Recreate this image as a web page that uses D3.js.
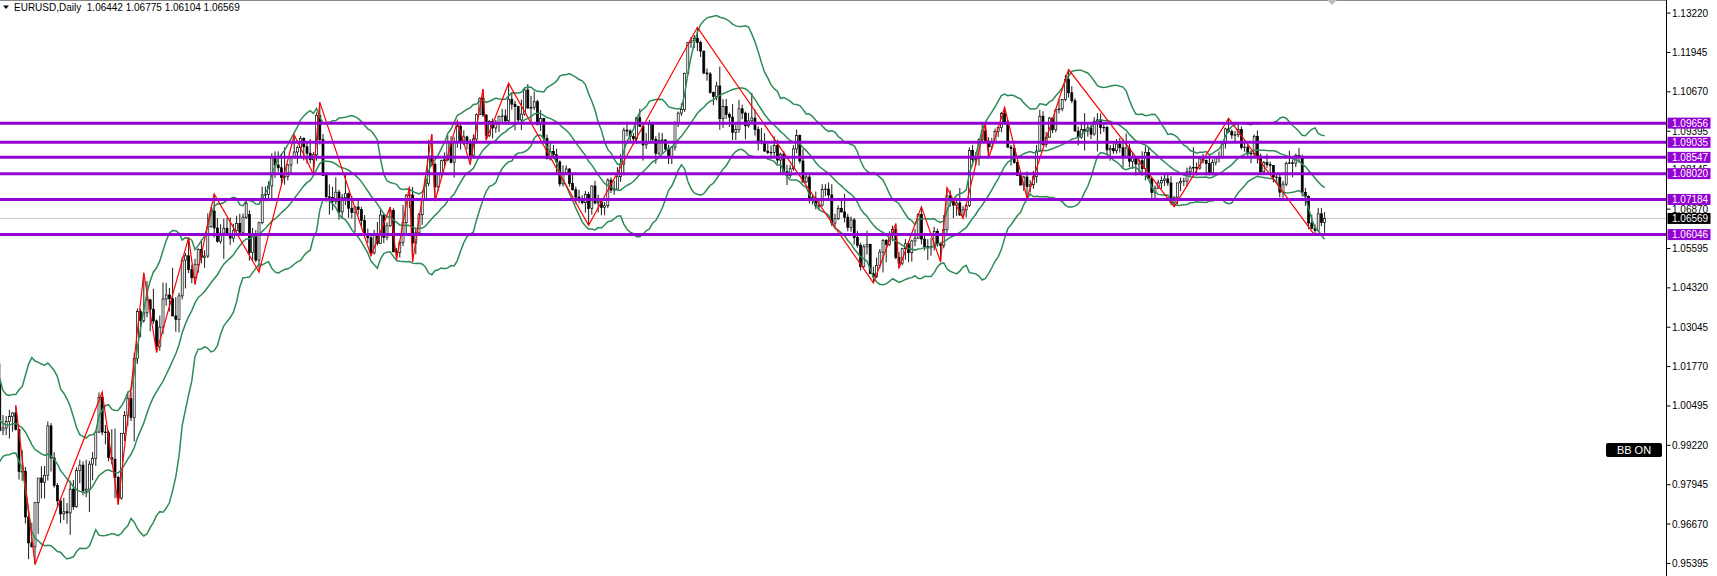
<!DOCTYPE html>
<html><head><meta charset="utf-8">
<script src="https://cdn.jsdelivr.net/npm/d3@7"></script>
<style>body{margin:0;background:#fff;}svg{display:block;}</style>
</head><body>
<svg id="c" width="1717" height="576"></svg>
<script>
// EURUSD Daily, one row per week (Aug 15 2022 .. Apr 19 2024)
const opens=[
1.0260,1.0159,1.0170,1.0178,1.0088, 1.0038,0.9943,0.9966,0.9967,0.9973, 0.9964,1.0002,1.0016,1.0054,0.9946,
0.9953,0.9926,0.9902,1.0011,1.0000, 1.0042,1.0122,0.9971,0.9978,0.9999, 1.0015,1.0027,0.9973,0.9837,0.9837,
0.9690,0.9606,0.9593,0.9736,0.9816, 0.9802,0.9825,0.9985,0.9881,0.9792, 0.9742,0.9700,0.9707,0.9703,0.9780,
0.9723,0.9840,0.9858,0.9774,0.9780, 0.9861,0.9879,0.9965,1.0077,0.9965, 0.9963,0.9883,0.9877,0.9818,0.9751,
0.9961,1.0019,1.0073,1.0012,1.0203, 1.0355,1.0326,1.0351,1.0393,1.0363, 1.0325,1.0243,1.0305,1.0396,1.0409,
1.0397,1.0341,1.0330,1.0406,1.0522, 1.0536,1.0491,1.0465,1.0507,1.0556, 1.0531,1.0535,1.0630,1.0681,1.0626,
1.0583,1.0609,1.0625,1.0603,1.0593, 1.0617,1.0641,1.0612,1.0661, 1.0670,1.0547,1.0605,1.0522,
1.0643,1.0733,1.0735,1.0762,1.0853, 1.0830,1.0821,1.0789,1.0793,1.0830, 1.0856,1.0872,1.0886,1.0916,1.0889,
1.0868,1.0847,1.0863,1.0991,1.0912, 1.0796,1.0727,1.0725,1.0712,1.0742, 1.0678,1.0724,1.0737,1.0690,1.0676,
1.0694,1.0686,1.0650,1.0605,1.0594, 1.0545,1.0606,1.0576,1.0668,1.0596, 1.0633,1.0683,1.0549,1.0547,1.0579,
1.0643,1.0732,1.0733,1.0577,1.0610, 1.0669,1.0718,1.0770,1.0859,1.0832, 1.0759,1.0801,1.0844,1.0847,1.0905,
1.0839,1.0903,1.0955,1.0904,1.0921, 1.0900,1.0862,1.0914,1.0993,1.1046, 1.0992,1.0926,1.0971,1.0950,1.0967,
1.0988,1.0989,1.0973,1.1043,1.1027, 1.1019,1.0976,1.0995,1.1073,1.1014, 1.1017,1.1035,1.0962,1.0981,1.0916,
1.0850,1.0874,1.0863,1.0840,1.0769, 1.0805,1.0817,1.0770,1.0750,1.0726, 1.0721,1.0708,1.0735,1.0689,1.0762,
1.0707,1.0711,1.0693,1.0698,1.0781, 1.0749,1.0752,1.0792,1.0833,1.0943, 1.0940,1.0922,1.0915,1.0983,1.0955,
1.0895,1.0906,1.0962,1.0913,1.0868, 1.0909,1.0911,1.0882,1.0854,1.0888, 1.0967,1.0998,1.1010,1.1127,1.1227,
1.1232,1.1240,1.1227,1.1199,1.1128, 1.1125,1.1065,1.1052,1.1086,1.0980, 1.1020,1.0994,1.0985,1.0936,1.0945,
1.1012,1.0998,1.0957,1.0973,1.0982, 1.0945,1.0908,1.0906,1.0875,1.0870, 1.0871,1.0893,1.0846,1.0865,1.0808,
1.0796,1.0818,1.0882,1.0926,1.0843, 1.0775,1.0791,1.0722,1.0723,1.0697, 1.0700,1.0751,1.0752,1.0733,1.0642,
1.0656,1.0689,1.0678,1.0661,1.0628, 1.0652,1.0595,1.0570,1.0501,1.0565, 1.0573,1.0478,1.0468,1.0505,1.0548,
1.0586,1.0573,1.0605,1.0621,1.0530, 1.0512,1.0559,1.0575,1.0546,1.0584, 1.0593,1.0670,1.0590,1.0566,1.0563,
1.0565,1.0615,1.0575,1.0570,1.0621, 1.0730,1.0718,1.0700,1.0707,1.0668, 1.0685,1.0699,1.0877,1.0848,1.0851,
1.0912,1.0940,1.0907,1.0889,1.0904, 1.0939,1.0952,1.0997,1.0970,1.0888, 1.0883,1.0838,1.0796,1.0765,1.0791,
1.0761,1.0766,1.0792,1.0875,1.0988, 1.0896,1.0920,1.0982,1.0944,1.1009, 1.1012,1.1042,1.1107,1.1064,
1.1038,1.0940,1.0920,1.0945, 1.0940,1.0950,1.0930,1.0972,1.0976, 1.0951,1.0952,1.0879,1.0884,1.0876,
1.0898,1.0886,1.0855,1.0885,1.0842, 1.0854,1.0833,1.0844,1.0818,1.0871, 1.0786,1.0741,1.0755,1.0772,1.0780,
1.0785,1.0772,1.0709,1.0726,1.0772, 1.0777,1.0778,1.0808,1.0820,1.0822, 1.0820,1.0850,1.0845,1.0835,1.0804,
1.0838,1.0855,1.0853,1.0899,1.0947, 1.0938,1.0927,1.0928,1.0945,1.0887, 1.0888,1.0868,1.0866,1.0923,1.0859,
1.0808,1.0838,1.0831,1.0828,1.0791, 1.0790,1.0742,1.0768,1.0835,1.0837, 1.0836,1.0861,1.0856,1.0741,1.0728,
1.0642,1.0625,1.0618,1.0672,1.06442];
const highs=[
1.0268,1.0190,1.0202,1.0190,1.0096, 1.0045,0.9973,0.9999,1.0032,1.0090, 1.0028,1.0079,1.0055,1.0055,1.0033,
0.9960,0.9988,1.0011,1.0030,1.0113, 1.0198,1.0187,1.0020,1.0017,1.0037, 1.0029,1.0051,0.9976,0.9906,0.9852,
0.9710,0.9671,0.9739,0.9815,0.9854, 0.9855,0.9999,0.9994,0.9900,0.9800, 0.9750,0.9752,0.9735,0.9807,0.9810,
0.9850,0.9875,0.9870,0.9875,0.9872, 0.9900,0.9970,1.0093,1.0094,0.9988, 0.9971,0.9974,0.9976,0.9824,0.9960,
1.0033,1.0096,1.0094,1.0222,1.0365, 1.0364,1.0481,1.0454,1.0397,1.0429, 1.0330,1.0342,1.0449,1.0448,1.0432,
1.0497,1.0402,1.0416,1.0533,1.0545, 1.0595,1.0507,1.0526,1.0560,1.0589, 1.0554,1.0673,1.0694,1.0736,1.0658,
1.0638,1.0656,1.0658,1.0660,1.0640, 1.0666,1.0672,1.0673,1.0714, 1.0683,1.0626,1.0619,1.0646,
1.0760,1.0760,1.0777,1.0868,1.0874, 1.0874,1.0867,1.0887,1.0834,1.0858, 1.0927,1.0893,1.0924,1.0920,1.0903,
1.0914,1.0872,1.1000,1.1033,1.0930, 1.0806,1.0767,1.0760,1.0790,1.0750, 1.0736,1.0805,1.0741,1.0730,1.0697,
1.0719,1.0694,1.0668,1.0624,1.0600, 1.0620,1.0645,1.0691,1.0674,1.0644, 1.0694,1.0690,1.0561,1.0586,1.0700,
1.0736,1.0760,1.0759,1.0623,1.0675, 1.0722,1.0787,1.0912,1.0930,1.0840, 1.0805,1.0847,1.0871,1.0926,1.0924,
1.0920,1.0973,1.0963,1.0942,1.0925, 1.0914,1.0929,1.0997,1.1049,1.1076, 1.0994,1.0976,1.0980,1.0976,1.0989,
1.1012,1.1010,1.1095,1.1065,1.1038, 1.1022,1.1042,1.1079,1.1092,1.1054, 1.1068,1.1041,1.1008,1.0983,1.0928,
1.0906,1.0895,1.0883,1.0845,1.0829, 1.0829,1.0820,1.0804,1.0760,1.0749, 1.0732,1.0746,1.0743,1.0764,1.0779,
1.0734,1.0718,1.0710,1.0787,1.0790, 1.0779,1.0823,1.0865,1.0951,1.0970, 1.0946,1.0934,1.0986,1.1012,1.0966,
1.0934,1.0976,1.0967,1.0923,1.0935, 1.0934,1.0914,1.0896,1.0887,1.0972, 1.1003,1.1030,1.1129,1.1228,1.1245,
1.1251,1.1276,1.1233,1.1200,1.1143, 1.1131,1.1068,1.1100,1.1149,1.1043, 1.1044,1.1000,1.1027,1.0965,1.1041,
1.1025,1.1003,1.0999,1.1064,1.1010, 1.0955,1.0950,1.0933,1.0901,1.0893, 1.0923,1.0912,1.0870,1.0875,1.0831,
1.0831,1.0894,1.0945,1.0929,1.0882, 1.0806,1.0799,1.0732,1.0744,1.0718, 1.0768,1.0768,1.0773,1.0768,1.0672,
1.0699,1.0718,1.0737,1.0672,1.0663, 1.0658,1.0616,1.0578,1.0573,1.0617, 1.0575,1.0500,1.0530,1.0558,1.0590,
1.0590,1.0615,1.0634,1.0640,1.0548, 1.0562,1.0590,1.0584,1.0588,1.0623, 1.0674,1.0695,1.0610,1.0590,1.0594,
1.0630,1.0624,1.0577,1.0668,1.0756, 1.0748,1.0719,1.0724,1.0755,1.0697, 1.0705,1.0887,1.0895,1.0872,1.0917,
1.0962,1.0965,1.0920,1.0918,1.0948, 1.0954,1.1002,1.1017,1.0976,1.0895, 1.0894,1.0848,1.0806,1.0795,1.0809,
1.0781,1.0811,1.0895,1.1009,1.1004, 1.0937,1.0986,1.0983,1.1011,1.1044, 1.1044,1.1122,1.1139,1.1085,
1.1046,1.0955,1.0969,1.0998, 1.0965,1.0960,1.0985,1.0998,1.0997, 1.0963,1.0957,1.0895,1.0900,1.0914,
1.0918,1.0915,1.0932,1.0898,1.0870, 1.0855,1.0856,1.0874,1.0890,1.0888, 1.0790,1.0764,1.0782,1.0793,1.0799,
1.0805,1.0794,1.0728,1.0771,1.0789, 1.0789,1.0822,1.0827,1.0888,1.0838, 1.0857,1.0866,1.0848,1.0861,1.0848,
1.0859,1.0874,1.0908,1.0951,1.0981, 1.0945,1.0940,1.0963,1.0955,1.0906, 1.0896,1.0877,1.0929,1.0942,1.0867,
1.0843,1.0865,1.0841,1.0830,1.0803, 1.0803,1.0778,1.0841,1.0876,1.0846, 1.0867,1.0885,1.0864,1.0756,1.0732,
1.0669,1.0637,1.0691,1.0691,1.06775];
const lows=[
1.0153,1.0122,1.0162,1.0078,1.0032, 0.9926,0.9901,0.9910,0.9950,0.9948, 0.9914,0.9990,0.9967,0.9910,0.9944,
0.9877,0.9864,0.9876,0.9929,0.9997, 1.0040,0.9966,0.9955,0.9955,0.9944, 0.9966,0.9970,0.9811,0.9807,0.9669,
0.9553,0.9592,0.9536,0.9635,0.9750, 0.9750,0.9808,0.9837,0.9785,0.9720, 0.9670,0.9680,0.9668,0.9632,0.9713,
0.9720,0.9799,0.9760,0.9754,0.9706, 0.9809,0.9855,0.9962,0.9955,0.9925, 0.9870,0.9860,0.9751,0.9730,0.9746,
0.9936,0.9984,1.0000,0.9935,1.0186, 1.0272,1.0319,1.0337,1.0291,1.0316, 1.0223,1.0228,1.0282,1.0374,1.0355,
1.0340,1.0290,1.0288,1.0395,1.0430, 1.0480,1.0447,1.0443,1.0481,1.0511, 1.0497,1.0529,1.0627,1.0595,1.0578,
1.0575,1.0526,1.0601,1.0571,1.0580, 1.0615,1.0611,1.0610,1.0655, 1.0520,1.0520,1.0515,1.0483,
1.0638,1.0712,1.0713,1.0714,1.0788, 1.0808,1.0768,1.0766,1.0780,1.0802, 1.0852,1.0834,1.0852,1.0845,1.0835,
1.0835,1.0800,1.0844,1.0896,1.0795, 1.0711,1.0669,1.0683,1.0702,1.0653, 1.0656,1.0700,1.0659,1.0657,1.0613,
1.0669,1.0632,1.0600,1.0577,1.0536, 1.0540,1.0569,1.0574,1.0577,1.0586, 1.0630,1.0547,1.0524,1.0530,1.0567,
1.0609,1.0690,1.0516,1.0541,1.0605, 1.0636,1.0715,1.0761,1.0825,1.0713, 1.0745,1.0786,1.0823,1.0842,1.0835,
1.0789,1.0886,1.0880,1.0895,1.0880, 1.0831,1.0858,1.0907,1.0992,1.0985, 1.0910,1.0920,1.0916,1.0934,1.0937,
1.0962,1.0964,1.0960,1.1009,1.0942, 1.0965,1.0943,1.0990,1.1017,1.0967, 1.1008,1.0958,1.0940,1.0902,1.0849,
1.0845,1.0853,1.0800,1.0760,1.0760, 1.0800,1.0760,1.0747,1.0705,1.0706, 1.0703,1.0676,1.0635,1.0669,1.0702,
1.0676,1.0667,1.0667,1.0690,1.0739, 1.0733,1.0749,1.0775,1.0796,1.0923, 1.0905,1.0895,1.0899,1.0955,1.0844,
1.0882,1.0899,1.0900,1.0834,1.0861, 1.0867,1.0875,1.0833,1.0833,1.0877, 1.0953,1.0989,1.1002,1.1119,1.1210,
1.1209,1.1199,1.1180,1.1124,1.1103, 1.1061,1.1024,1.1039,1.0944,1.0950, 1.0979,1.0953,1.0911,1.0911,1.0934,
1.0978,1.0913,1.0951,1.0968,1.0925, 1.0877,1.0897,1.0873,1.0865,1.0851, 1.0857,1.0834,1.0802,1.0803,1.0765,
1.0788,1.0811,1.0868,1.0835,1.0773, 1.0771,1.0705,1.0702,1.0686,1.0686, 1.0695,1.0729,1.0715,1.0632,1.0631,
1.0652,1.0676,1.0644,1.0615,1.0614, 1.0572,1.0562,1.0488,1.0496,1.0540, 1.0477,1.0448,1.0464,1.0494,1.0482,
1.0515,1.0567,1.0583,1.0525,1.0495, 1.0505,1.0523,1.0515,1.0517,1.0567, 1.0590,1.0573,1.0553,1.0522,1.0536,
1.0553,1.0565,1.0516,1.0560,1.0610, 1.0695,1.0658,1.0665,1.0665,1.0657, 1.0660,1.0694,1.0827,1.0829,1.0828,
1.0905,1.0902,1.0852,1.0879,1.0902, 1.0921,1.0936,1.0961,1.0885,1.0828, 1.0834,1.0794,1.0763,1.0746,1.0723,
1.0741,1.0753,1.0772,1.0873,1.0893, 1.0887,1.0918,1.0933,1.0936,1.0997, 1.1004,1.1036,1.1049,1.1030,
1.0939,1.0893,1.0915,1.0877, 1.0922,1.0914,1.0925,1.0874,1.0930, 1.0937,1.0861,1.0844,1.0866,1.0867,
1.0870,1.0821,1.0853,1.0823,1.0817, 1.0796,1.0806,1.0795,1.0780,1.0783, 1.0723,1.0722,1.0752,1.0753,1.0762,
1.0762,1.0700,1.0695,1.0702,1.0745, 1.0762,1.0761,1.0794,1.0805,1.0796, 1.0815,1.0835,1.0796,1.0796,1.0796,
1.0828,1.0838,1.0852,1.0883,1.0934, 1.0915,1.0904,1.0920,1.0880,1.0873, 1.0856,1.0836,1.0851,1.0835,1.0802,
1.0801,1.0821,1.0805,1.0773,1.0774, 1.0725,1.0724,1.0761,1.0833,1.0790, 1.0823,1.0837,1.0728,1.0698,1.0622,
1.0622,1.0601,1.0612,1.0632,1.06104];
const closes=[
1.0159,1.0170,1.0178,1.0088,1.0038, 0.9943,0.9966,0.9967,0.9973,0.9964, 1.0002,1.0016,1.0054,0.9946,0.9953,
0.9926,0.9902,1.0011,1.0000,1.0042, 1.0122,0.9971,0.9978,0.9999,1.0015, 1.0027,0.9973,0.9837,0.9837,0.9690,
0.9606,0.9593,0.9736,0.9816,0.9802, 0.9825,0.9985,0.9881,0.9792,0.9742, 0.9700,0.9707,0.9703,0.9780,0.9723,
0.9840,0.9858,0.9774,0.9780,0.9861, 0.9879,0.9965,1.0077,0.9965,0.9963, 0.9883,0.9877,0.9818,0.9751,0.9961,
1.0019,1.0073,1.0012,1.0203,1.0355, 1.0326,1.0351,1.0393,1.0363,1.0325, 1.0243,1.0305,1.0396,1.0409,1.0397,
1.0341,1.0330,1.0406,1.0522,1.0536, 1.0491,1.0465,1.0507,1.0556,1.0531, 1.0535,1.0630,1.0681,1.0626,1.0583,
1.0609,1.0625,1.0603,1.0593,1.0617, 1.0641,1.0612,1.0661,1.0705, 1.0547,1.0605,1.0522,1.0643,
1.0733,1.0735,1.0762,1.0853,1.0830, 1.0821,1.0789,1.0793,1.0830,1.0856, 1.0872,1.0886,1.0916,1.0889,1.0868,
1.0847,1.0863,1.0991,1.0912,1.0796, 1.0727,1.0725,1.0712,1.0742,1.0678, 1.0724,1.0737,1.0690,1.0676,1.0694,
1.0686,1.0650,1.0605,1.0594,1.0545, 1.0606,1.0576,1.0668,1.0596,1.0633, 1.0683,1.0549,1.0547,1.0579,1.0643,
1.0732,1.0733,1.0577,1.0610,1.0669, 1.0718,1.0770,1.0859,1.0832,1.0759, 1.0801,1.0844,1.0847,1.0905,1.0839,
1.0903,1.0955,1.0904,1.0921,1.0900, 1.0862,1.0914,1.0993,1.1046,1.0992, 1.0926,1.0971,1.0950,1.0967,1.0988,
1.0989,1.0973,1.1043,1.1027,1.1019, 1.0976,1.0995,1.1073,1.1014,1.1017, 1.1035,1.0962,1.0981,1.0916,1.0850,
1.0874,1.0863,1.0840,1.0769,1.0805, 1.0817,1.0770,1.0750,1.0726,1.0721, 1.0708,1.0735,1.0689,1.0762,1.0707,
1.0711,1.0693,1.0698,1.0781,1.0749, 1.0752,1.0792,1.0833,1.0943,1.0940, 1.0922,1.0915,1.0983,1.0955,1.0895,
1.0906,1.0962,1.0913,1.0868,1.0909, 1.0911,1.0882,1.0854,1.0888,1.0967, 1.0998,1.1010,1.1127,1.1227,1.1232,
1.1240,1.1227,1.1199,1.1128,1.1125, 1.1065,1.1052,1.1086,1.0980,1.1020, 1.0994,1.0985,1.0936,1.0945,1.1012,
1.0998,1.0957,1.0973,1.0982,1.0945, 1.0908,1.0906,1.0875,1.0870,1.0871, 1.0893,1.0846,1.0865,1.0808,1.0796,
1.0818,1.0882,1.0926,1.0843,1.0775, 1.0791,1.0722,1.0723,1.0697,1.0700, 1.0751,1.0752,1.0733,1.0642,1.0656,
1.0689,1.0678,1.0661,1.0628,1.0652, 1.0595,1.0570,1.0501,1.0565,1.0573, 1.0478,1.0468,1.0505,1.0548,1.0586,
1.0573,1.0605,1.0621,1.0530,1.0512, 1.0559,1.0575,1.0546,1.0584,1.0593, 1.0670,1.0590,1.0566,1.0563,1.0565,
1.0615,1.0575,1.0570,1.0621,1.0730, 1.0718,1.0700,1.0707,1.0668,1.0685, 1.0699,1.0877,1.0848,1.0851,1.0912,
1.0940,1.0907,1.0889,1.0904,1.0939, 1.0952,1.0997,1.0970,1.0888,1.0883, 1.0838,1.0796,1.0765,1.0791,1.0761,
1.0766,1.0792,1.0875,1.0988,1.0896, 1.0920,1.0982,1.0944,1.1009,1.1012, 1.1042,1.1107,1.1064,1.1038,
1.0940,1.0920,1.0945,1.0940, 1.0950,1.0930,1.0972,1.0976,1.0951, 1.0952,1.0879,1.0884,1.0876,1.0898,
1.0886,1.0855,1.0885,1.0842,1.0854, 1.0833,1.0844,1.0818,1.0871,1.0786, 1.0741,1.0755,1.0772,1.0780,1.0785,
1.0772,1.0709,1.0726,1.0772,1.0777, 1.0778,1.0808,1.0820,1.0822,1.0820, 1.0850,1.0845,1.0835,1.0804,1.0838,
1.0855,1.0853,1.0899,1.0947,1.0938, 1.0927,1.0928,1.0945,1.0887,1.0888, 1.0868,1.0866,1.0923,1.0859,1.0808,
1.0838,1.0831,1.0828,1.0791,1.0790, 1.0742,1.0768,1.0835,1.0837,1.0836, 1.0861,1.0856,1.0741,1.0728,1.0642,
1.0625,1.0618,1.0672,1.0644,1.06569];

// ZigZag pivots (bar index, price)
const pivotBars=[26,32,53,58,66,70,80,82,88,102,113,119,121,137,143,145,149,150,156,157,164,168,172,173,180,205,239,294,301,302,309,315,317,322,329,330,335,342,355,388,405,432];
const pivotPrices=[1.0051,0.9536,1.0094,0.9730,1.0481,1.0223,1.0595,1.0443,1.0736,1.0483,1.0927,1.0800,1.1033,1.0536,1.0694,1.0524,1.0760,1.0516,1.0930,1.0713,1.0973,1.0831,1.1076,1.0910,1.1095,1.0635,1.1276,1.0448,1.0640,1.0495,1.0695,1.0516,1.0756,1.0657,1.0965,1.0852,1.1017,1.0723,1.1139,1.0695,1.0981,1.0601];

const levels=[1.09656,1.09035,1.08547,1.08020,1.07184,1.06046];
const lastPrice=1.06569;
const tickLabels=["1.13220","1.11945","1.10670","1.09395","1.08145","1.06870","1.05595","1.04320","1.03045","1.01770","1.00495","0.99220","0.97945","0.96670","0.95395"];
const headerText="EURUSD,Daily  1.06442 1.06775 1.06104 1.06569";
const bbPeriod=20, bbDev=2;

const W=1717,H=576,axisX=1666.5;
const FONT='"Liberation Sans", Arial, sans-serif';
const svg=d3.select('#c');
const x=d3.scaleLinear().domain([32,435]).range([35,1324.6]);
const y=d3.scaleLinear().domain([0.95395,1.13220]).range([563.4,13.1]);

svg.append('rect').attr('width',W).attr('height',H).attr('fill','#fff');
svg.append('defs').append('clipPath').attr('id','clip').append('rect').attr('x',0).attr('y',0).attr('width',axisX).attr('height',H);
const plot=svg.append('g').attr('clip-path','url(#clip)');

// bid line
plot.append('line').attr('x1',0).attr('x2',axisX).attr('y1',y(lastPrice)).attr('y2',y(lastPrice)).attr('stroke','#c8c8c8').attr('stroke-width',1);

const idx=d3.range(closes.length);
// wicks
plot.append('g').selectAll('line').data(idx).join('line')
  .attr('x1',i=>x(i)).attr('x2',i=>x(i))
  .attr('y1',i=>y(highs[i])).attr('y2',i=>y(lows[i]))
  .attr('stroke','#000').attr('stroke-width',0.9);
// bodies
plot.append('g').selectAll('rect').data(idx).join('rect')
  .attr('x',i=>x(i)-1.0).attr('width',2.0)
  .attr('y',i=>y(Math.max(opens[i],closes[i])))
  .attr('height',i=>Math.max(0.5,y(Math.min(opens[i],closes[i]))-y(Math.max(opens[i],closes[i]))))
  .attr('fill',i=>closes[i]>=opens[i]?'#fff':'#000')
  .attr('stroke','#000').attr('stroke-width',0.7);

// Bollinger Bands (20, 2) computed from closes
const bb=idx.filter(i=>i>=bbPeriod-1).map(i=>{
  const s=closes.slice(i-bbPeriod+1,i+1);const m=d3.mean(s);
  const sd=Math.sqrt(d3.mean(s,v=>(v-m)*(v-m)));
  return {i,m,u:m+bbDev*sd,l:m-bbDev*sd};
});
['u','m','l'].forEach(k=>{
  plot.append('path').datum(bb)
    .attr('d',d3.line().x(d=>x(d.i)).y(d=>y(d[k])))
    .attr('fill','none').attr('stroke','#2E8B57').attr('stroke-width',1.5);
});

// ZigZag
plot.append('path').datum(d3.range(pivotBars.length))
  .attr('d',d3.line().x(k=>x(pivotBars[k])).y(k=>y(pivotPrices[k])))
  .attr('fill','none').attr('stroke','#ff0000').attr('stroke-width',1.2);

// horizontal levels
plot.append('g').selectAll('line').data(levels).join('line')
  .attr('x1',0).attr('x2',axisX).attr('y1',d=>y(d)).attr('y2',d=>y(d))
  .attr('stroke','#9400D3').attr('stroke-width',3);

// header
svg.append('path').attr('d','M3,5.5 L9,5.5 L6,9 Z').attr('fill','#000');
svg.append('text').attr('x',14).attr('y',10.5).attr('font-family',FONT).attr('font-size',10).attr('fill','#000')
  .attr('xml:space','preserve').style('white-space','pre').text(headerText);

// top frame
svg.append('line').attr('x1',0).attr('x2',axisX).attr('y1',0.5).attr('y2',0.5).attr('stroke','#888').attr('stroke-width',1);
// chart-shift marker
svg.append('path').attr('d','M1327,0 L1337,0 L1332,5 Z').attr('fill','#bbb');

// price axis
svg.append('line').attr('x1',axisX).attr('x2',axisX).attr('y1',0).attr('y2',H).attr('stroke','#000').attr('stroke-width',1);
const ax=svg.append('g');
ax.selectAll('line').data(tickLabels).join('line')
  .attr('x1',axisX).attr('x2',axisX+4).attr('y1',d=>y(+d)).attr('y2',d=>y(+d)).attr('stroke','#000');
ax.selectAll('text').data(tickLabels).join('text')
  .attr('x',axisX+5.5).attr('y',d=>y(+d)).attr('dy','0.35em')
  .attr('font-family',FONT).attr('font-size',10).attr('fill','#000').text(d=>d);

// level labels
const lg=svg.append('g');
lg.selectAll('rect').data(levels).join('rect')
  .attr('x',axisX+1).attr('y',d=>y(d)-5.5).attr('width',43).attr('height',11).attr('fill','#9400D3');
lg.selectAll('text').data(levels).join('text')
  .attr('x',axisX+5.5).attr('y',d=>y(d)).attr('dy','0.35em')
  .attr('font-family',FONT).attr('font-size',10).attr('fill','#fff').text(d=>d.toFixed(5));
// last price label
svg.append('rect').attr('x',axisX+1).attr('y',y(lastPrice)-5.5).attr('width',43).attr('height',11).attr('fill','#000');
svg.append('text').attr('x',axisX+5.5).attr('y',y(lastPrice)).attr('dy','0.35em')
  .attr('font-family',FONT).attr('font-size',10).attr('fill','#fff').text(lastPrice.toFixed(5));

// BB ON button
svg.append('rect').attr('x',1606).attr('y',443).attr('width',56).attr('height',14).attr('rx',2).attr('fill','#000');
svg.append('text').attr('x',1634).attr('y',450).attr('dy','0.36em').attr('text-anchor','middle')
  .attr('font-family',FONT).attr('font-size',11).attr('fill','#fff').text('BB ON');
</script>
</body></html>
